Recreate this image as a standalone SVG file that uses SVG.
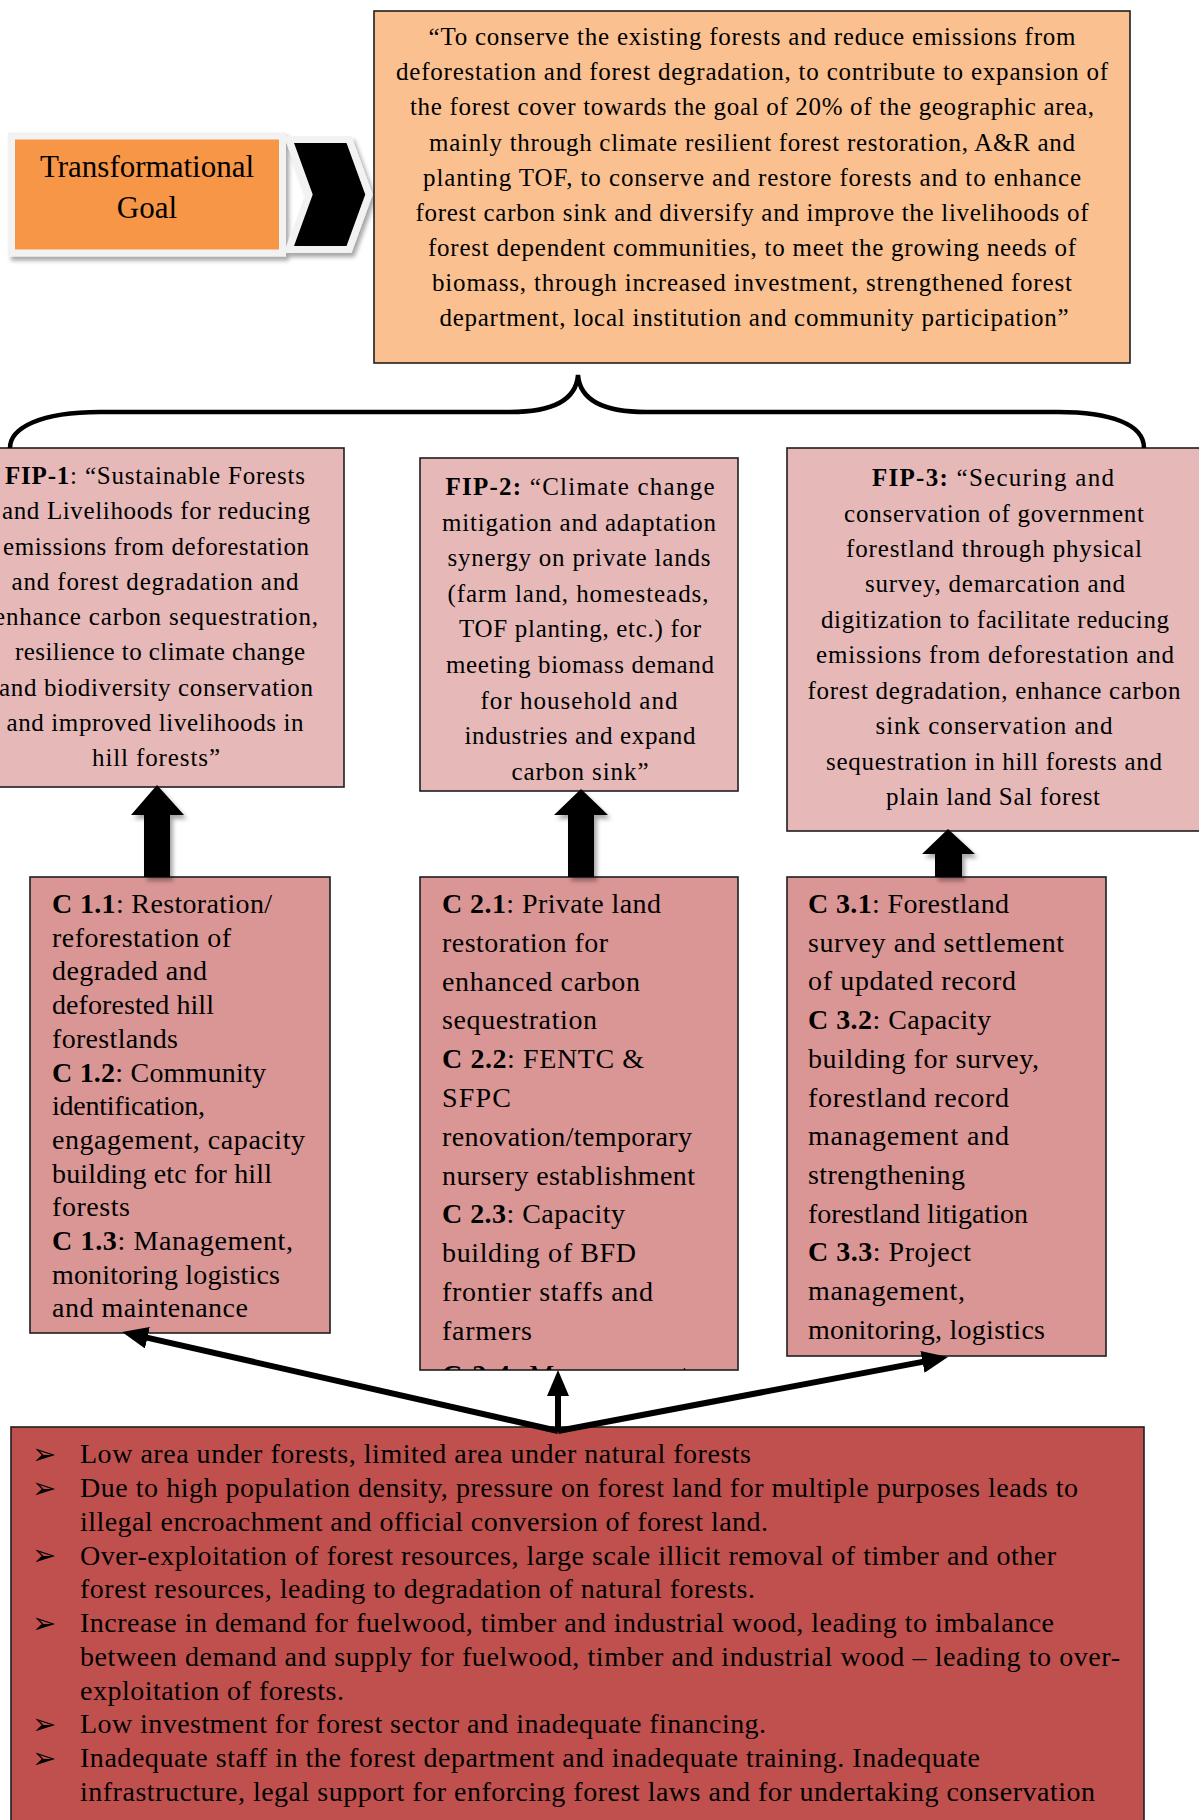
<svg xmlns="http://www.w3.org/2000/svg" width="1199" height="1820" viewBox="0 0 1199 1820">
  <style>
    .t { font-family: "Liberation Serif", "Times New Roman", serif; fill: #000; }
    .g { font-size: 25px; }
    .f { font-size: 25px; }
    .c { font-size: 28px; }
    .p { font-size: 28px; }
    .b { font-weight: bold; }
    .box { stroke: #1f1f1f; stroke-width: 1.6; }
    .bul { font-family: "DejaVu Sans", sans-serif; font-size: 29px; fill: #000; }
    .wire { stroke: #000; stroke-width: 6; fill: none; }
  </style>
  <defs>
    <filter id="shadow" x="-20%" y="-20%" width="150%" height="150%">
      <feDropShadow dx="3" dy="4" stdDeviation="2" flood-color="#000" flood-opacity="0.35"/>
    </filter>
    <marker id="head" markerUnits="userSpaceOnUse" markerWidth="26" markerHeight="22" refX="4" refY="11" orient="auto">
      <path d="M0,0 L26,11 L0,22 Z" fill="#000"/>
    </marker>
    <clipPath id="c2clip">
      <rect x="420" y="877" width="318" height="493"/>
    </clipPath>
  </defs>

  <rect width="1199" height="1820" fill="#fff"/>

  <!-- Transformational goal label with chevron -->
  <g id="goal-label" filter="url(#shadow)">
    <rect x="11.5" y="136" width="271" height="117" fill="#F79646" stroke="#F2F2F2" stroke-width="7"/>
    <polygon points="289,139.5 349,139.5 369,194.5 349,249.5 289,249.5 309,194.5" fill="#000" stroke="#F2F2F2" stroke-width="7"/>
  </g>
  <g id="goal-label-text">
    <text class="t" x="147" y="177" text-anchor="middle" font-size="31">Transformational</text>
    <text class="t" x="147" y="218" text-anchor="middle" font-size="31">Goal</text>
  </g>

  <!-- Goal statement -->
  <g id="goal">
    <rect class="box" x="374" y="11" width="756" height="352" fill="#FAC090"/>
    <g class="t g" text-anchor="middle">
      <text x="752" y="45" textLength="647">“To conserve the existing forests and reduce emissions from</text>
      <text x="752" y="80" textLength="712">deforestation and forest degradation, to contribute to expansion of</text>
      <text x="752" y="115" textLength="684">the forest cover towards the goal of 20% of the geographic area,</text>
      <text x="752" y="151" textLength="646">mainly through climate resilient forest restoration, A&amp;R and</text>
      <text x="752" y="186" textLength="658">planting TOF, to conserve and restore forests and to enhance</text>
      <text x="752" y="221" textLength="673">forest carbon sink and diversify and improve the livelihoods of</text>
      <text x="752" y="256" textLength="648">forest dependent communities, to meet the growing needs of</text>
      <text x="752" y="291" textLength="640">biomass, through increased investment, strengthened forest</text>
      <text x="754" y="326" textLength="629">department, local institution and community participation”</text>
    </g>
  </g>

  <!-- Programme boxes -->
  <g id="fip1">
    <rect class="box" x="-32" y="448" width="376" height="339" fill="#E6B9B8"/>
    <g class="t f" text-anchor="middle">
      <text x="155" y="484" textLength="300"><tspan class="b">FIP-1</tspan>: “Sustainable Forests</text>
      <text x="156" y="519" textLength="308">and Livelihoods for reducing</text>
      <text x="156" y="555" textLength="306">emissions from deforestation</text>
      <text x="155" y="590" textLength="287">and forest degradation and</text>
      <text x="156" y="625" textLength="324">enhance carbon sequestration,</text>
      <text x="160" y="660" textLength="290">resilience to climate change</text>
      <text x="156" y="696" textLength="314">and biodiversity conservation</text>
      <text x="155" y="731" textLength="297">and improved livelihoods in</text>
      <text x="156" y="766" textLength="128">hill forests”</text>
    </g>
  </g>

  <g id="fip2">
    <rect class="box" x="420" y="458" width="318" height="333" fill="#E6B9B8"/>
    <g class="t f" text-anchor="middle">
      <text x="580" y="495" textLength="269"><tspan class="b">FIP-2:</tspan> “Climate change</text>
      <text x="579" y="531" textLength="274">mitigation and adaptation</text>
      <text x="579" y="566" textLength="263">synergy on private lands</text>
      <text x="578" y="602" textLength="261">(farm land, homesteads,</text>
      <text x="580" y="637" textLength="242">TOF planting, etc.) for</text>
      <text x="580" y="673" textLength="268">meeting biomass demand</text>
      <text x="579" y="709" textLength="197">for household and</text>
      <text x="580" y="744" textLength="231">industries and expand</text>
      <text x="580" y="780" textLength="137">carbon sink”</text>
    </g>
  </g>

  <g id="fip3">
    <rect class="box" x="787" y="448" width="416" height="383" fill="#E6B9B8"/>
    <g class="t f" text-anchor="middle">
      <text x="993" y="486" textLength="242"><tspan class="b">FIP-3:</tspan> “Securing and</text>
      <text x="994" y="522" textLength="300">conservation of government</text>
      <text x="994" y="557" textLength="296">forestland through physical</text>
      <text x="995" y="592" textLength="260">survey, demarcation and</text>
      <text x="995" y="628" textLength="348">digitization to facilitate reducing</text>
      <text x="995" y="663" textLength="358">emissions from deforestation and</text>
      <text x="994" y="699" textLength="373">forest degradation, enhance carbon</text>
      <text x="994" y="734" textLength="237">sink conservation and</text>
      <text x="994" y="770" textLength="336">sequestration in hill forests and</text>
      <text x="993" y="805" textLength="214">plain land Sal forest</text>
    </g>
  </g>

  <!-- Component boxes -->
  <g id="comp1">
    <rect class="box" x="30" y="877" width="300" height="456" fill="#DA9694"/>
    <g class="t c">
      <text x="52" y="913" textLength="220"><tspan class="b">C 1.1</tspan>: Restoration/</text>
      <text x="52" y="947" textLength="179">reforestation of</text>
      <text x="52" y="980" textLength="155">degraded and</text>
      <text x="52" y="1014" textLength="162">deforested hill</text>
      <text x="52" y="1048" textLength="126">forestlands</text>
      <text x="52" y="1082" textLength="214"><tspan class="b">C 1.2</tspan>: Community</text>
      <text x="52" y="1115" textLength="153">identification,</text>
      <text x="52" y="1149" textLength="253">engagement, capacity</text>
      <text x="52" y="1183" textLength="220">building etc for hill</text>
      <text x="52" y="1216" textLength="78">forests</text>
      <text x="52" y="1250" textLength="241"><tspan class="b">C 1.3</tspan>: Management,</text>
      <text x="52" y="1284" textLength="228">monitoring logistics</text>
      <text x="52" y="1317" textLength="196">and maintenance</text>
    </g>
  </g>

  <g id="comp2">
    <rect class="box" x="420" y="877" width="318" height="493" fill="#DA9694"/>
    <g class="t c" clip-path="url(#c2clip)">
      <text x="442" y="913" textLength="219"><tspan class="b">C 2.1</tspan>: Private land</text>
      <text x="442" y="952" textLength="166">restoration for</text>
      <text x="442" y="991" textLength="198">enhanced carbon</text>
      <text x="442" y="1029" textLength="155">sequestration</text>
      <text x="442" y="1068" textLength="202"><tspan class="b">C 2.2</tspan>: FENTC &amp;</text>
      <text x="442" y="1107" textLength="69">SFPC</text>
      <text x="442" y="1146" textLength="250">renovation/temporary</text>
      <text x="442" y="1185" textLength="253">nursery establishment</text>
      <text x="442" y="1223" textLength="183"><tspan class="b">C 2.3</tspan>: Capacity</text>
      <text x="442" y="1262" textLength="194">building of BFD</text>
      <text x="442" y="1301" textLength="211">frontier staffs and</text>
      <text x="442" y="1340" textLength="90">farmers</text>
      <text x="442" y="1384" textLength="255"><tspan class="b">C 2.4</tspan>: Management,</text>
    </g>
  </g>

  <g id="comp3">
    <rect class="box" x="787" y="877" width="319" height="479" fill="#DA9694"/>
    <g class="t c">
      <text x="808" y="913" textLength="201"><tspan class="b">C 3.1</tspan>: Forestland</text>
      <text x="808" y="952" textLength="256">survey and settlement</text>
      <text x="808" y="990" textLength="208">of updated record</text>
      <text x="808" y="1029" textLength="183"><tspan class="b">C 3.2</tspan>: Capacity</text>
      <text x="808" y="1068" textLength="231">building for survey,</text>
      <text x="808" y="1107" textLength="201">forestland record</text>
      <text x="808" y="1145" textLength="201">management and</text>
      <text x="808" y="1184" textLength="157">strengthening</text>
      <text x="808" y="1223" textLength="220">forestland litigation</text>
      <text x="808" y="1261" textLength="163"><tspan class="b">C 3.3</tspan>: Project</text>
      <text x="808" y="1300" textLength="157">management,</text>
      <text x="808" y="1339" textLength="237">monitoring, logistics</text>
    </g>
  </g>

  <!-- Problem statement -->
  <g id="problems">
    <rect class="box" x="11" y="1427" width="1133" height="420" fill="#C0504D"/>
    <g>
      <text class="bul" x="32" y="1464">➢</text>
      <text class="bul" x="32" y="1498">➢</text>
      <text class="bul" x="32" y="1565">➢</text>
      <text class="bul" x="32" y="1633">➢</text>
      <text class="bul" x="32" y="1734">➢</text>
      <text class="bul" x="32" y="1768">➢</text>
    </g>
    <g class="t p">
      <text x="80" y="1463" textLength="671">Low area under forests, limited area under natural forests</text>
      <text x="80" y="1497" textLength="998">Due to high population density, pressure on forest land for multiple purposes leads to</text>
      <text x="80" y="1531" textLength="688">illegal encroachment and official conversion of forest land.</text>
      <text x="80" y="1565" textLength="976">Over-exploitation of forest resources, large scale illicit removal of timber and other</text>
      <text x="80" y="1598" textLength="675">forest resources, leading to degradation of natural forests.</text>
      <text x="80" y="1632" textLength="974">Increase in demand for fuelwood, timber and industrial wood, leading to imbalance</text>
      <text x="80" y="1666" textLength="1040">between demand and supply for fuelwood, timber and industrial wood – leading to over-</text>
      <text x="80" y="1700" textLength="264">exploitation of forests.</text>
      <text x="80" y="1733" textLength="686">Low investment for forest sector and inadequate financing.</text>
      <text x="80" y="1767" textLength="900">Inadequate staff in the forest department and inadequate training. Inadequate</text>
      <text x="80" y="1801" textLength="1015">infrastructure, legal support for enforcing forest laws and for undertaking conservation</text>
    </g>
  </g>

  <!-- Connectors -->
  <g id="connectors">
    <path d="M10,448 C10,428 40,412 100,412 L510,412 C550,412 576,402 578,375 C580,402 606,412 646,412 L1058,412 C1110,412 1144,424 1144,448" fill="none" stroke="#000" stroke-width="4.5"/>
    <g fill="#000" filter="url(#shadow)">
      <polygon points="157,785 184,815 170,815 170,877 144,877 144,815 131,815"/>
      <polygon points="581,789 608,815 594,815 594,877 568,877 568,815 554,815"/>
      <polygon points="948,829 975,854 962,854 962,877 935,877 935,854 922,854"/>
    </g>
    <line class="wire" x1="558" y1="1431" x2="143.5" y2="1336.9" marker-end="url(#head)"/>
    <line class="wire" x1="558" y1="1431" x2="558" y2="1392" marker-end="url(#head)"/>
    <line class="wire" x1="558" y1="1431" x2="926.4" y2="1361.1" marker-end="url(#head)"/>
  </g>
</svg>
